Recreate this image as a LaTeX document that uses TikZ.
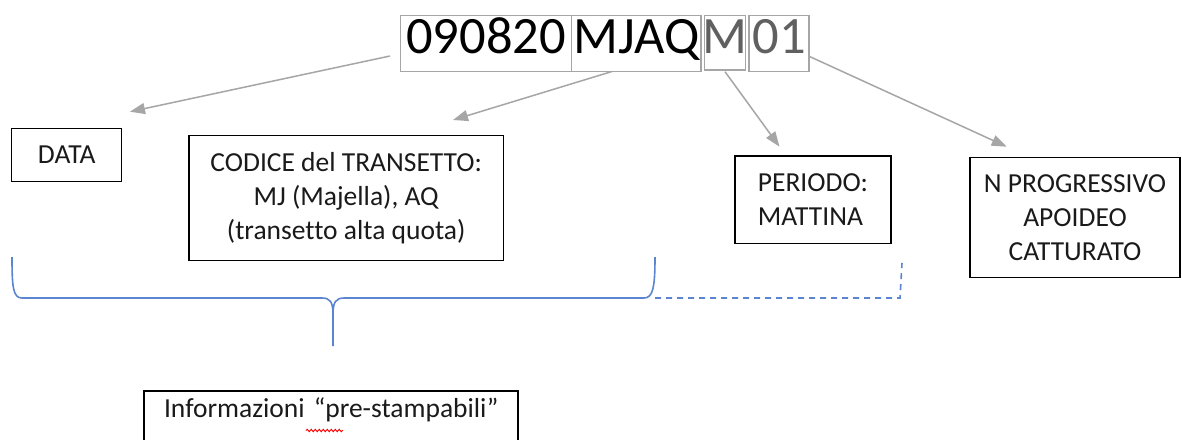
\documentclass[tikz,border=0pt]{standalone}
\usepackage{fontspec}
\setmainfont[Ligatures={NoCommon}]{Carlito}
\usetikzlibrary{arrows.meta,decorations.pathmorphing}
\definecolor{codegray}{HTML}{A6A6A6}
\definecolor{codetext}{HTML}{606060}
\definecolor{bracecol}{HTML}{5B85D0}
\definecolor{txt}{HTML}{1A1A1A}
\begin{document}
\begin{tikzpicture}[x=1pt,y=-1pt,
  codebox/.style={draw=codegray, line width=1.2pt, inner sep=0pt, text height=37.6pt, text depth=18.4pt, font=\fontsize{52.5}{60}\selectfont},
  labelbox/.style={draw=black, line width=1.5pt, font=\fontsize{27.5}{34}\selectfont, text=txt, inner sep=0pt},
  ptr/.style={draw=codegray, line width=1.5pt, -{Triangle[length=15pt,width=11pt]}},
  bracepath/.style={draw=bracecol, line width=1.6pt},
  squiggle/.style={draw=red, line width=0.9pt, decorate, decoration={snake, amplitude=1.2pt, segment length=4pt}}
]
\path[use as bounding box, clip] (0,0) rectangle (1182,439);
\fill[white] (0,0) rectangle (1182,439);

% code boxes
\node[codebox, minimum width=171pt] (cdate) at (486.2,43.7) {090820};
\node[codebox, minimum width=129.3pt] (ctrans) at (636.4,43.7) {MJAQ};
\node[codebox, text=codetext, text depth=16.7pt] (cper) at (725,42.85) {\makebox[41.4pt]{M}};
\node[codebox, minimum width=60pt, text=codetext] (cnum) at (779,43.7) {01};

% label boxes
\node[labelbox, minimum width=110pt, minimum height=53.4pt] (data) at (66.7,155) {DATA};
\node[labelbox, minimum width=314.3pt, minimum height=125pt, align=center] (codice) at (346.2,198.2) {CODICE del TRANSETTO:\\MJ (Majella), AQ\\(transetto alta quota)};
\node[labelbox, minimum width=156pt, minimum height=87.3pt, align=left] (periodo) at (813,199.7) {PERIODO:\\MATTINA};
\node[labelbox, minimum width=210pt, minimum height=120pt, align=center] (nprog) at (1075,217.3) {N PROGRESSIVO\\APOIDEO\\CATTURATO};
\node[labelbox, anchor=north west, text width=334pt, inner xsep=20pt, inner ysep=5pt, text height=21.7pt, text depth=40pt, align=left] (info) at (143.3,390) {\mbox{Informazioni “pre-stampabili”}};

% arrow end points
\coordinate (a1s) at (390,56);    \coordinate (a1e) at (130,111.7);
\coordinate (a2s) at (612,71.5);  \coordinate (a2e) at (453,120);
\coordinate (a3s) at (725,71.7);  \coordinate (a3e) at (779.5,146.7);
\coordinate (a4s) at (810,56.7);  \coordinate (a4e) at (1006.7,146.7);
\draw[ptr] (a1s) -- (a1e);
\draw[ptr] (a2s) -- (a2e);
\draw[ptr] (a3s) -- (a3e);
\draw[ptr] (a4s) -- (a4e);

% brace
\draw[bracepath] (12,257) .. controls (12,287) and (13,298) .. (22,298) -- (322,298) .. controls (330,298) and (333,302) .. (333,314) -- (333,346);
\draw[bracepath] (333,314) .. controls (333,302) and (336,298) .. (344,298) -- (644,298) .. controls (653,298) and (655,287) .. (655,257);
\draw[bracepath, dash pattern=on 6pt off 5pt] (655,298) -- (900,298) -- (902,263);

% spell-check squiggle
\draw[squiggle] (306,430.5) -- (343,430.5);
\end{tikzpicture}
\end{document}
